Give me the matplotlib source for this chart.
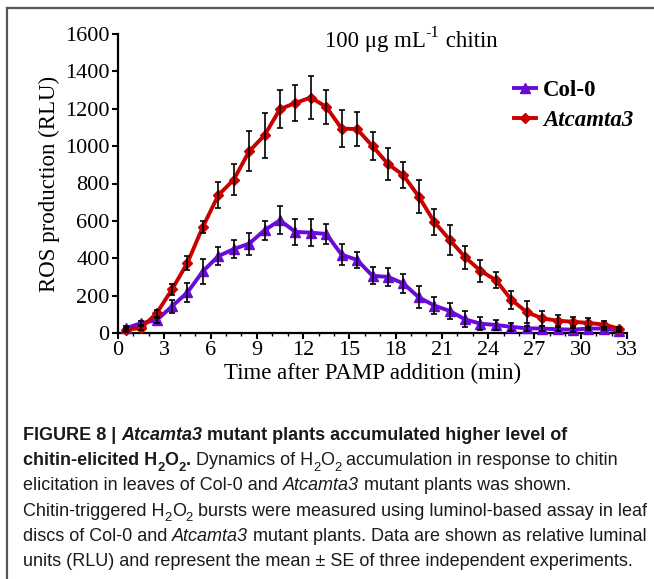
import matplotlib
matplotlib.use("Agg")
import matplotlib.pyplot as plt
from matplotlib.font_manager import FontProperties
from matplotlib.lines import Line2D

# minutes after PAMP addition
time_min = [0.5, 1.5, 2.5, 3.5, 4.5, 5.5, 6.5, 7.5, 8.5, 9.5, 10.5,
            11.5, 12.5, 13.5, 14.5, 15.5, 16.5, 17.5, 18.5, 19.5, 20.5, 21.5,
            22.5, 23.5, 24.5, 25.5, 26.5, 27.5, 28.5, 29.5, 30.5, 31.5, 32.5]

col0 = [25, 53, 68, 143, 217, 330, 411, 449, 478, 550, 603,
        541, 537, 530, 419, 391, 306, 300, 265, 191, 147, 118,
        73, 50, 43, 33, 25, 24, 20, 18, 24, 24, 12]
col0_se = [10, 10, 12, 36, 49, 67, 49, 48, 58, 50, 74,
           69, 73, 52, 57, 45, 45, 48, 52, 58, 45, 42,
           43, 35, 28, 22, 14, 12, 10, 10, 10, 10, 8]

camta3 = [18, 27, 105, 233, 375, 568, 737, 820, 972, 1058, 1198,
          1231, 1260, 1210, 1094, 1091, 1000, 905, 844, 730, 595, 499,
          406, 333, 283, 178, 112, 78, 66, 60, 54, 45, 23]
camta3_se = [10, 10, 18, 27, 38, 34, 70, 83, 107, 120, 103,
             98, 114, 91, 98, 89, 73, 87, 70, 87, 68, 80,
             62, 60, 43, 49, 60, 40, 30, 25, 28, 20, 10]

x_ticks = [0, 3, 6, 9, 12, 15, 18, 21, 24, 27, 30, 33]
y_ticks = [0, 200, 400, 600, 800, 1000, 1200, 1400, 1600]

# caption lines as (text, style, shift) runs; shift -1 = subscript, +1 = superscript
caption = [
    [("FIGURE 8 | ", "b", 0), ("Atcamta3", "bi", 0),
     (" mutant plants accumulated higher level of", "b", 0)],
    [("chitin-elicited H", "b", 0), ("2", "b", -1), ("O", "b", 0), ("2", "b", -1),
     (".", "b", 0), (" Dynamics of H", "n", 0), ("2", "n", -1), ("O", "n", 0),
     ("2", "n", -1), (" accumulation in response to chitin", "n", 0)],
    [("elicitation in leaves of Col-0 and ", "n", 0), ("Atcamta3", "i", 0),
     (" mutant plants was shown.", "n", 0)],
    [("Chitin-triggered H", "n", 0), ("2", "n", -1), ("O", "n", 0), ("2", "n", -1),
     (" bursts were measured using luminol-based assay in leaf", "n", 0)],
    [("discs of Col-0 and ", "n", 0), ("Atcamta3", "i", 0),
     (" mutant plants. Data are shown as relative luminal", "n", 0)],
    [("units (RLU) and represent the mean \u00b1 SE of three independent experiments.", "n", 0)],
]
title_runs = [("100 \u03bcg mL", "n", 0), ("-1", "n", 1), (" chitin", "n", 0)]

W, H = 654, 579
SERIF = "Liberation Serif"
SANS = "Liberation Sans"
PURPLE = "#6a0ad8"
RED = "#c80000"


def fx(px):
    return px / W


def fy(py):
    return 1 - py / H


def prop_for(family, style, size):
    return FontProperties(family=family,
                          weight="bold" if "b" in style else "normal",
                          style="italic" if "i" in style else "normal",
                          size=size)


def draw_runs(fig, renderer, x, y, runs, family, size, color):
    # lay text pieces left to right, measuring each one
    for text, style, shift in runs:
        fs = size * 0.72 if shift else size
        prop = prop_for(family, style, fs)
        w_bar, _, _ = renderer.get_text_width_height_descent("||", prop, ismath=False)
        w, _, _ = renderer.get_text_width_height_descent("|" + text + "|", prop, ismath=False)
        dy = -0.30 * size * fig.dpi / 72 if shift < 0 else (0.42 * size * fig.dpi / 72 if shift > 0 else 0)
        fig.text(fx(x), fy(y - dy), text, fontproperties=prop, color=color,
                 ha="left", va="baseline")
        x += w - w_bar


fig = plt.figure(figsize=(W / 100, H / 100), dpi=100)
renderer = fig.canvas.get_renderer()

ax = fig.add_axes([fx(118), fy(333), fx(627) - fx(118), fy(34) - fy(333)])

ax.plot(time_min, col0, color=PURPLE, lw=2.8, marker="^", ms=7, zorder=3,
        clip_on=False, label="Col-0")
ax.plot(time_min, camta3, color=RED, lw=2.8, marker="D", ms=5.5, zorder=4,
        clip_on=False, label="Atcamta3")
ax.errorbar(time_min, col0, yerr=col0_se, fmt="none", ecolor="black",
            elinewidth=1.2, capsize=2.5, capthick=1.2, zorder=5, clip_on=False)
ax.errorbar(time_min, camta3, yerr=camta3_se, fmt="none", ecolor="black",
            elinewidth=1.2, capsize=2.5, capthick=1.2, zorder=5, clip_on=False)

ax.set_xlim(0, 33)
ax.set_ylim(0, 1600)
ax.set_xticks(x_ticks)
ax.set_xticks(range(0, 34), minor=True)
ax.set_yticks(y_ticks)
for side in ("top", "right"):
    ax.spines[side].set_visible(False)
for side in ("left", "bottom"):
    ax.spines[side].set_linewidth(1.6)
ax.tick_params(which="major", length=4, width=1.5, direction="out", pad=2)
ax.tick_params(axis="x", which="minor", length=2.5, width=1.0, direction="out")
tick_prop = FontProperties(family=SERIF, size=16)
for lab in ax.get_xticklabels() + ax.get_yticklabels():
    lab.set_fontproperties(tick_prop)

ax.set_ylabel("ROS production (RLU)", fontproperties=FontProperties(family=SERIF, size=16.5),
              labelpad=4)
ax.set_xlabel("Time after PAMP addition (min)",
              fontproperties=FontProperties(family=SERIF, size=16.5), labelpad=2)

leg = ax.legend(loc="upper left", bbox_to_anchor=(fx(503), fy(69)),
                bbox_transform=fig.transFigure, frameon=False, numpoints=1,
                handlelength=0.95, handletextpad=0.3, labelspacing=0.35,
                borderpad=0, prop=FontProperties(family=SERIF, weight="bold", size=16.5))
leg.get_texts()[1].set_style("italic")

draw_runs(fig, renderer, 325, 47, title_runs, SERIF, 16.5, "black")

for i, line in enumerate(caption):
    draw_runs(fig, renderer, 23, 440 + 25.2 * i, line, SANS, 13.0, "#1a1a1a")

# page frame: left and top rule
fig.add_artist(Line2D([fx(7), fx(7)], [0, fy(8)], color="#555555", lw=1.6))
fig.add_artist(Line2D([fx(7), 1], [fy(8), fy(8)], color="#555555", lw=1.6))

fig.savefig("out.png", dpi=100)
